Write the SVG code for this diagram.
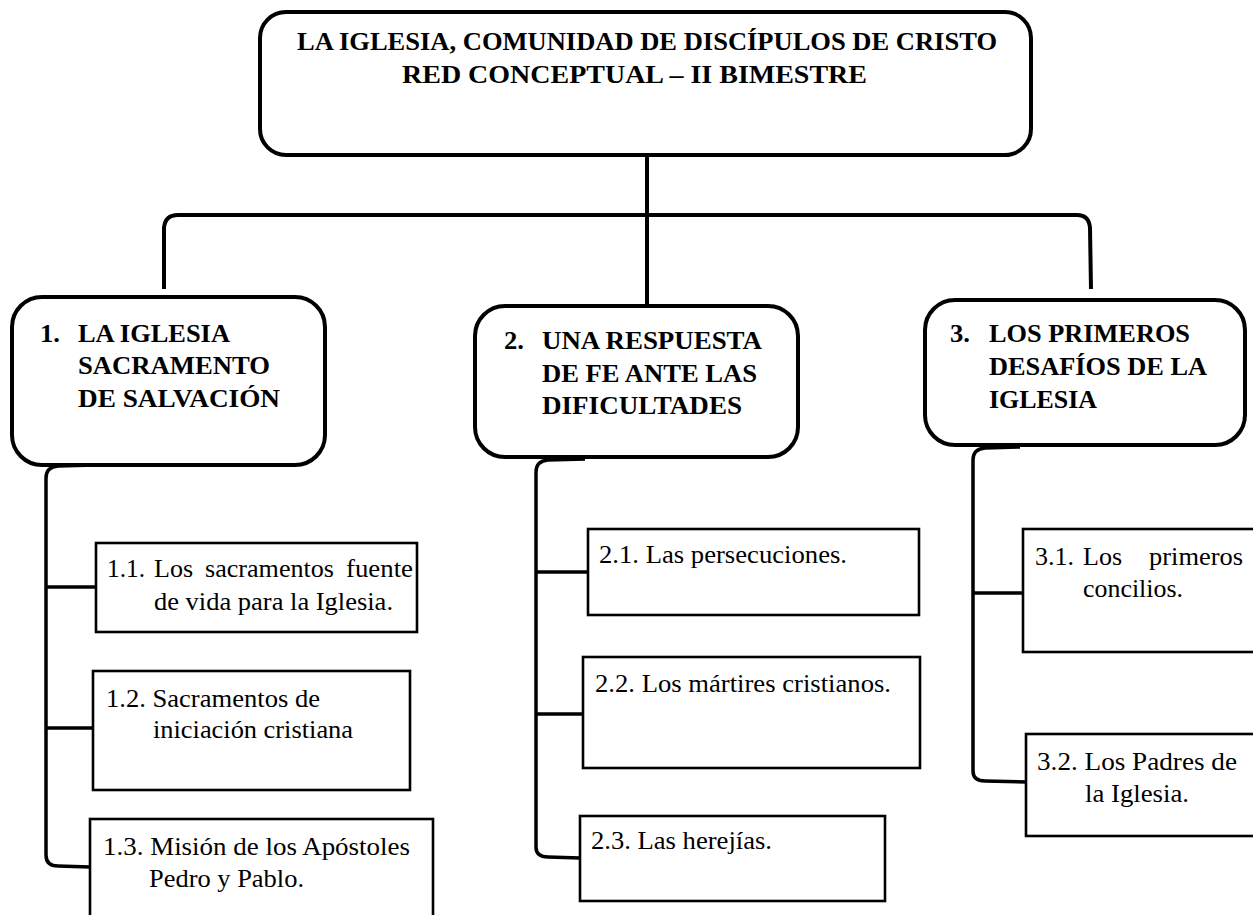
<svg xmlns="http://www.w3.org/2000/svg" width="1253" height="915" viewBox="0 0 1253 915">
<style>
.main{fill:#fff;stroke:#000;stroke-width:4}
.sub{fill:#fff;stroke:#000;stroke-width:2.6}
.con{fill:none;stroke:#000;stroke-width:4;stroke-linejoin:round}
.con2{fill:none;stroke:#000;stroke-width:3.5;stroke-linejoin:round}
text{font-family:"Liberation Serif",Tinos,"Times New Roman",Times,"DejaVu Serif","Noto Serif",serif;font-size:26px;fill:#000}
.b{font-weight:bold}
</style>
<rect width="1253" height="915" fill="#fff"/>
<g id="connectors">
<path class="con" d="M647,155 L647,306"/>
<path class="con" d="M164,289 L164,228 Q165,215 178,215 L1077,215 Q1089,215 1090,228 L1091,289"/>
<path class="con2" d="M95,465 L58,466 Q46,467 46,478 L46,855 Q46,866 58,866 L90,867"/>
<path class="con2" d="M46,587 L97,587"/>
<path class="con2" d="M46,728 L98,728"/>
<path class="con2" d="M585,459 L548,460 Q536,461 536,472 L536,847 Q536,857 548,857 L580,858"/>
<path class="con2" d="M536,572 L588,572"/>
<path class="con2" d="M536,714 L588,714"/>
<path class="con2" d="M1020,447 L985,448 Q973,449 973,460 L973,771 Q973,781 985,781 L1027,782"/>
<path class="con2" d="M973,593 L1023,593"/>
</g>
<g id="root">
<rect class="main" x="260" y="12" width="771" height="143" rx="26"/>
<text class="b" x="297" y="50" textLength="700" lengthAdjust="spacingAndGlyphs">LA IGLESIA, COMUNIDAD DE DISCÍPULOS DE CRISTO</text>
<text class="b" x="402" y="83" textLength="465" lengthAdjust="spacingAndGlyphs">RED CONCEPTUAL – II BIMESTRE</text>
</g>
<g id="n1">
<rect class="main" x="12" y="297" width="313" height="168" rx="30"/>
<text class="b" x="40" y="342" textLength="20" lengthAdjust="spacingAndGlyphs">1.</text>
<text class="b" x="78" y="342" textLength="152" lengthAdjust="spacingAndGlyphs">LA IGLESIA</text>
<text class="b" x="78" y="374" textLength="192" lengthAdjust="spacingAndGlyphs">SACRAMENTO</text>
<text class="b" x="78" y="407" textLength="202" lengthAdjust="spacingAndGlyphs">DE SALVACIÓN</text>
</g>
<g id="n2">
<rect class="main" x="475" y="306" width="323" height="151" rx="30"/>
<text class="b" x="504" y="349" textLength="20" lengthAdjust="spacingAndGlyphs">2.</text>
<text class="b" x="542" y="349" textLength="220" lengthAdjust="spacingAndGlyphs">UNA RESPUESTA</text>
<text class="b" x="542" y="382" textLength="215" lengthAdjust="spacingAndGlyphs">DE FE ANTE LAS</text>
<text class="b" x="542" y="414" textLength="200" lengthAdjust="spacingAndGlyphs">DIFICULTADES</text>
</g>
<g id="n3">
<rect class="main" x="925" y="300" width="320" height="145" rx="30"/>
<text class="b" x="950" y="342" textLength="20" lengthAdjust="spacingAndGlyphs">3.</text>
<text class="b" x="989" y="342" textLength="201" lengthAdjust="spacingAndGlyphs">LOS PRIMEROS</text>
<text class="b" x="989" y="375" textLength="218" lengthAdjust="spacingAndGlyphs">DESAFÍOS DE LA</text>
<text class="b" x="989" y="408" textLength="108" lengthAdjust="spacingAndGlyphs">IGLESIA</text>
</g>
<g id="n1-1">
<rect class="sub" x="96" y="543" width="321" height="89"/>
<text x="107" y="577" textLength="38" lengthAdjust="spacingAndGlyphs">1.1.</text>
<text x="154" y="577" textLength="39" lengthAdjust="spacingAndGlyphs">Los</text>
<text x="205" y="577" textLength="129" lengthAdjust="spacingAndGlyphs">sacramentos</text>
<text x="346" y="577" textLength="67" lengthAdjust="spacingAndGlyphs">fuente</text>
<text x="154" y="610" textLength="239" lengthAdjust="spacingAndGlyphs">de vida para la Iglesia.</text>
</g>
<g id="n1-2">
<rect class="sub" x="93" y="671" width="317" height="119"/>
<text x="106" y="707" textLength="214" lengthAdjust="spacingAndGlyphs">1.2. Sacramentos de</text>
<text x="153" y="738" textLength="200" lengthAdjust="spacingAndGlyphs">iniciación cristiana</text>
</g>
<g id="n1-3">
<rect class="sub" x="90" y="819" width="343" height="110"/>
<text x="103" y="855" textLength="307" lengthAdjust="spacingAndGlyphs">1.3. Misión de los Apóstoles</text>
<text x="149" y="887" textLength="155" lengthAdjust="spacingAndGlyphs">Pedro y Pablo.</text>
</g>
<g id="n2-1">
<rect class="sub" x="588" y="529" width="331" height="86"/>
<text x="599" y="563" textLength="248" lengthAdjust="spacingAndGlyphs">2.1. Las persecuciones.</text>
</g>
<g id="n2-2">
<rect class="sub" x="583" y="657" width="337" height="111"/>
<text x="595" y="692" textLength="296" lengthAdjust="spacingAndGlyphs">2.2. Los mártires cristianos.</text>
</g>
<g id="n2-3">
<rect class="sub" x="580" y="816" width="305" height="85"/>
<text x="591" y="849" textLength="181" lengthAdjust="spacingAndGlyphs">2.3. Las herejías.</text>
</g>
<g id="n3-1">
<rect class="sub" x="1023" y="529" width="250" height="123"/>
<text x="1035" y="565" textLength="39" lengthAdjust="spacingAndGlyphs">3.1.</text>
<text x="1083" y="565" textLength="39" lengthAdjust="spacingAndGlyphs">Los</text>
<text x="1149" y="565" textLength="94" lengthAdjust="spacingAndGlyphs">primeros</text>
<text x="1083" y="597" textLength="100" lengthAdjust="spacingAndGlyphs">concilios.</text>
</g>
<g id="n3-2">
<rect class="sub" x="1026" y="734" width="247" height="102"/>
<text x="1037" y="770" textLength="200" lengthAdjust="spacingAndGlyphs">3.2. Los Padres de</text>
<text x="1085" y="802" textLength="104" lengthAdjust="spacingAndGlyphs">la Iglesia.</text>
</g>
</svg>
